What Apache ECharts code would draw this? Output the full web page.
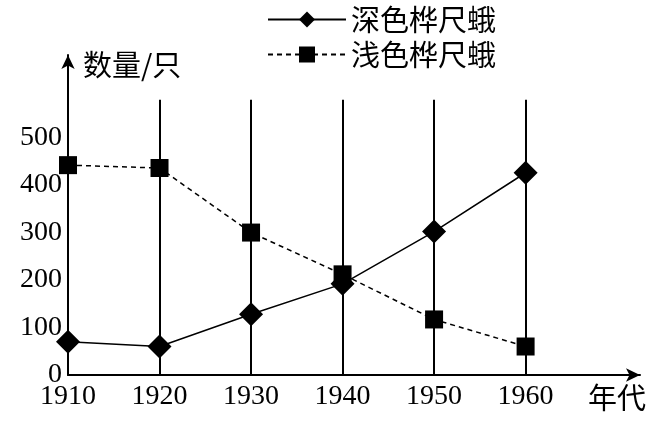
<!DOCTYPE html><html><head><meta charset="utf-8"><script src="https://cdn.jsdelivr.net/npm/echarts@6/dist/echarts.min.js"></script></head><body style="margin:0;background:#fff"><div id="c" style="width:671px;height:431px"></div><script>
const years=[1910,1920,1930,1940,1950,1960];
const dark=[70,60,128,192,302,426];
const light=[442,436,300,212,117,60];
const gridYears=[1920,1930,1940,1950,1960];
const yTicks=[0,100,200,300,400,500];
const ch=echarts.init(document.getElementById('c'));
const numFont='"Liberation Serif","DejaVu Serif",serif';
const cjk='"Noto Sans CJK SC",sans-serif';
ch.setOption({
 animation:false,
 legend:{orient:'vertical',left:262,top:0,itemGap:6,itemWidth:78,itemHeight:20,
  textStyle:{fontFamily:cjk,fontSize:29,color:'#000'},data:['深色桦尺蛾','浅色桦尺蛾']},
 grid:{left:68,right:31,top:55,bottom:56},
 graphic:[{type:'text',left:588,top:383,style:{text:'年代',font:'29px '+cjk,fill:'#000'}}],
 xAxis:{type:'value',min:1910,max:1972.5,interval:10,
  axisLine:{lineStyle:{color:'#000',width:2},symbol:['none','arrow'],symbolSize:[10,14]},
  axisTick:{show:false},splitLine:{show:false},
  axisLabel:{fontFamily:numFont,fontSize:28,color:'#000',margin:8,formatter:v=>years.includes(v)?String(v):''}},
 yAxis:{type:'value',min:0,max:674,interval:100,
  axisLine:{show:true,lineStyle:{color:'#000',width:2},symbol:['none','arrow'],symbolSize:[10,14]},
  axisTick:{show:false},splitLine:{show:false},
  axisLabel:{fontFamily:numFont,fontSize:28,color:'#000',margin:6,formatter:v=>yTicks.includes(v)?String(v):''},
  name:'数量/只',nameLocation:'end',nameGap:-24,nameTextStyle:{fontFamily:cjk,fontSize:29,color:'#000',align:'left',padding:[0,0,0,15]}},
 series:[
  {name:'深色桦尺蛾',type:'line',data:years.map((y,i)=>[y,dark[i]]),symbol:'diamond',symbolSize:24,
   lineStyle:{color:'#000',width:1.5},itemStyle:{color:'#000'},z:3,
   markLine:{silent:true,symbol:'none',label:{show:false},lineStyle:{color:'#000',width:2,type:'solid'},
    data:gridYears.map(y=>[{coord:[y,0]},{coord:[y,580]}])}},
  {name:'浅色桦尺蛾',type:'line',data:years.map((y,i)=>[y,light[i]]),symbol:'rect',symbolSize:18,
   lineStyle:{color:'#000',width:1.5,type:[5,4]},itemStyle:{color:'#000'},z:3}
 ]});
</script></body></html>
